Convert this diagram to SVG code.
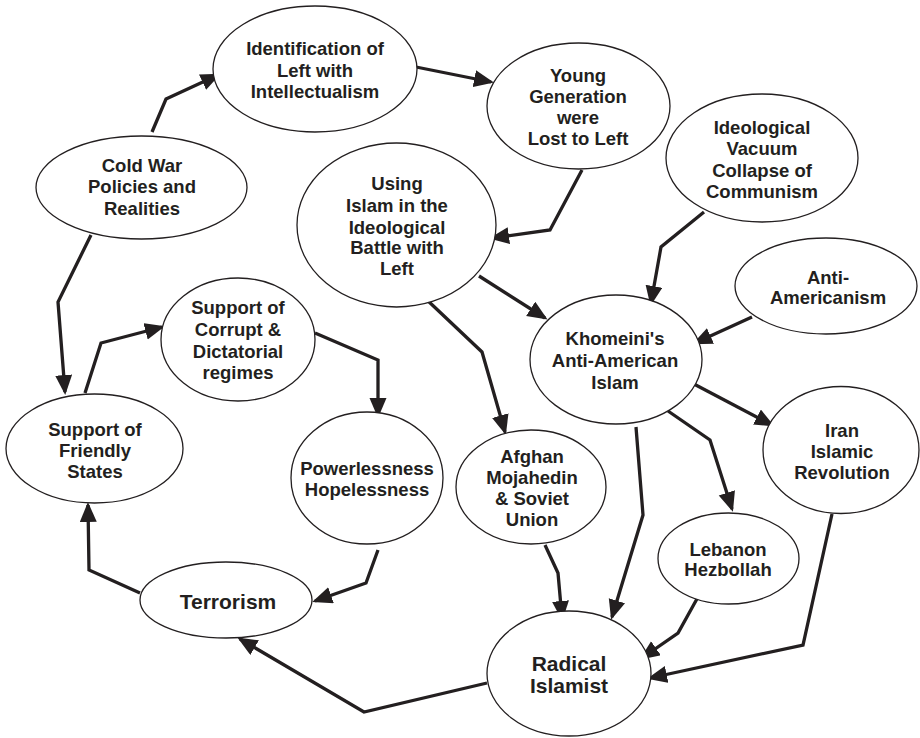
<svg xmlns="http://www.w3.org/2000/svg" width="920" height="738" viewBox="0 0 920 738">
<defs>
<style>
.n ellipse{fill:#fff;stroke:#231f20;stroke-width:1.3}
.n text{font-family:"Liberation Sans",Arial,Helvetica,sans-serif;font-weight:bold;font-size:18.5px;fill:#231f20;text-anchor:middle}
.n text.big{font-size:21px}
#edges path{fill:none;stroke:#231f20;stroke-width:3.3;stroke-linejoin:miter;marker-end:url(#ah)}
</style>
<marker id="ah" markerUnits="userSpaceOnUse" markerWidth="22" markerHeight="18" refX="17" refY="8.5" orient="auto">
<path d="M0,0 L20,8.5 L0,17 z" fill="#231f20"/>
</marker>
</defs>
<rect width="920" height="738" fill="#fff"/>
<g id="edges">
<path d="M152,132 L166,99 L218,75"/>
<path d="M416,67 L491,82"/>
<path d="M582,170 L550,230 L492,238"/>
<path d="M704,212 L661,247 L651,303"/>
<path d="M752,317 L695,343"/>
<path d="M479,276 L545,318"/>
<path d="M426,299 L482,352 L505,432"/>
<path d="M692,383 L772,425"/>
<path d="M668,411 L710,440 L732,509"/>
<path d="M636,427 L643,515 L612,617"/>
<path d="M545,545 L558,573 L562,618"/>
<path d="M698,597 L678,633 L642,658"/>
<path d="M832,514 L803,645 L650,678"/>
<path d="M487,683 L364,712 L240,639"/>
<path d="M378,550 L366,583 L315,601"/>
<path d="M140,593 L89,570 L88,505"/>
<path d="M315,333 L378,360 L378,415"/>
<path d="M85,393 L101,343 L162,327"/>
<path d="M91,235 L58,302 L65,392"/>
</g>
<g id="identification" class="n"><ellipse cx="315" cy="69" rx="102" ry="63"/>
<text x="315" y="54.5">Identification of</text><text x="315" y="76.5">Left with</text><text x="315" y="97.5">Intellectualism</text></g>
<g id="young" class="n"><ellipse cx="578.5" cy="106" rx="91.5" ry="63"/>
<text x="578" y="81.5">Young</text><text x="578" y="102.5">Generation</text><text x="578" y="123.5">were</text><text x="578" y="144.5">Lost to Left</text></g>
<g id="coldwar" class="n"><ellipse cx="141.5" cy="187.5" rx="105.5" ry="51.5"/>
<text x="142" y="171.5">Cold War</text><text x="142" y="192.5">Policies and</text><text x="142" y="214.5">Realities</text></g>
<g id="usingislam" class="n"><ellipse cx="396.5" cy="225" rx="99.5" ry="82"/>
<text x="397" y="189.5">Using</text><text x="397" y="211.5">Islam in the</text><text x="397" y="233.5">Ideological</text><text x="397" y="253.5">Battle with</text><text x="397" y="274.5">Left</text></g>
<g id="vacuum" class="n"><ellipse cx="762" cy="158" rx="96" ry="64"/>
<text x="762" y="133.5">Ideological</text><text x="762" y="154.5">Vacuum</text><text x="762" y="176.5">Collapse of</text><text x="762" y="197.5">Communism</text></g>
<g id="antiamericanism" class="n"><ellipse cx="826" cy="286" rx="91" ry="48"/>
<text x="828" y="283.5">Anti-</text><text x="828" y="303.5">Americanism</text></g>
<g id="corrupt" class="n"><ellipse cx="238" cy="339.5" rx="77" ry="61.5"/>
<text x="238" y="313.5">Support of</text><text x="238" y="335.5">Corrupt &amp;</text><text x="238" y="357.5">Dictatorial</text><text x="238" y="378.5">regimes</text></g>
<g id="khomeini" class="n"><ellipse cx="616" cy="359.5" rx="86" ry="64.5"/>
<text x="615" y="344.5">Khomeini's</text><text x="615" y="366.5">Anti-American</text><text x="615" y="388.5">Islam</text></g>
<g id="friendly" class="n"><ellipse cx="94.5" cy="448.5" rx="88.5" ry="54.5"/>
<text x="95" y="435.5">Support of</text><text x="95" y="456.5">Friendly</text><text x="95" y="477.5">States</text></g>
<g id="powerless" class="n"><ellipse cx="367" cy="478" rx="76" ry="66"/>
<text x="367" y="474.5">Powerlessness</text><text x="367" y="495.5">Hopelessness</text></g>
<g id="afghan" class="n"><ellipse cx="531" cy="487" rx="75" ry="57"/>
<text x="532" y="462.5">Afghan</text><text x="532" y="483.5">Mojahedin</text><text x="532" y="504.5">&amp; Soviet</text><text x="532" y="525.5">Union</text></g>
<g id="iran" class="n"><ellipse cx="841" cy="450" rx="78" ry="63.5"/>
<text x="842" y="436.5">Iran</text><text x="842" y="457.5">Islamic</text><text x="842" y="478.5">Revolution</text></g>
<g id="lebanon" class="n"><ellipse cx="728.5" cy="558.5" rx="70.5" ry="45.5"/>
<text x="728" y="555.5">Lebanon</text><text x="728" y="575.5">Hezbollah</text></g>
<g id="terrorism" class="n"><ellipse cx="226" cy="600" rx="86" ry="38"/>
<text class="big" x="228" y="608.5">Terrorism</text></g>
<g id="radical" class="n"><ellipse cx="569" cy="673.5" rx="82" ry="62.5"/>
<text class="big" x="569" y="670.5">Radical</text><text class="big" x="569" y="692.5">Islamist</text></g>
</svg>
